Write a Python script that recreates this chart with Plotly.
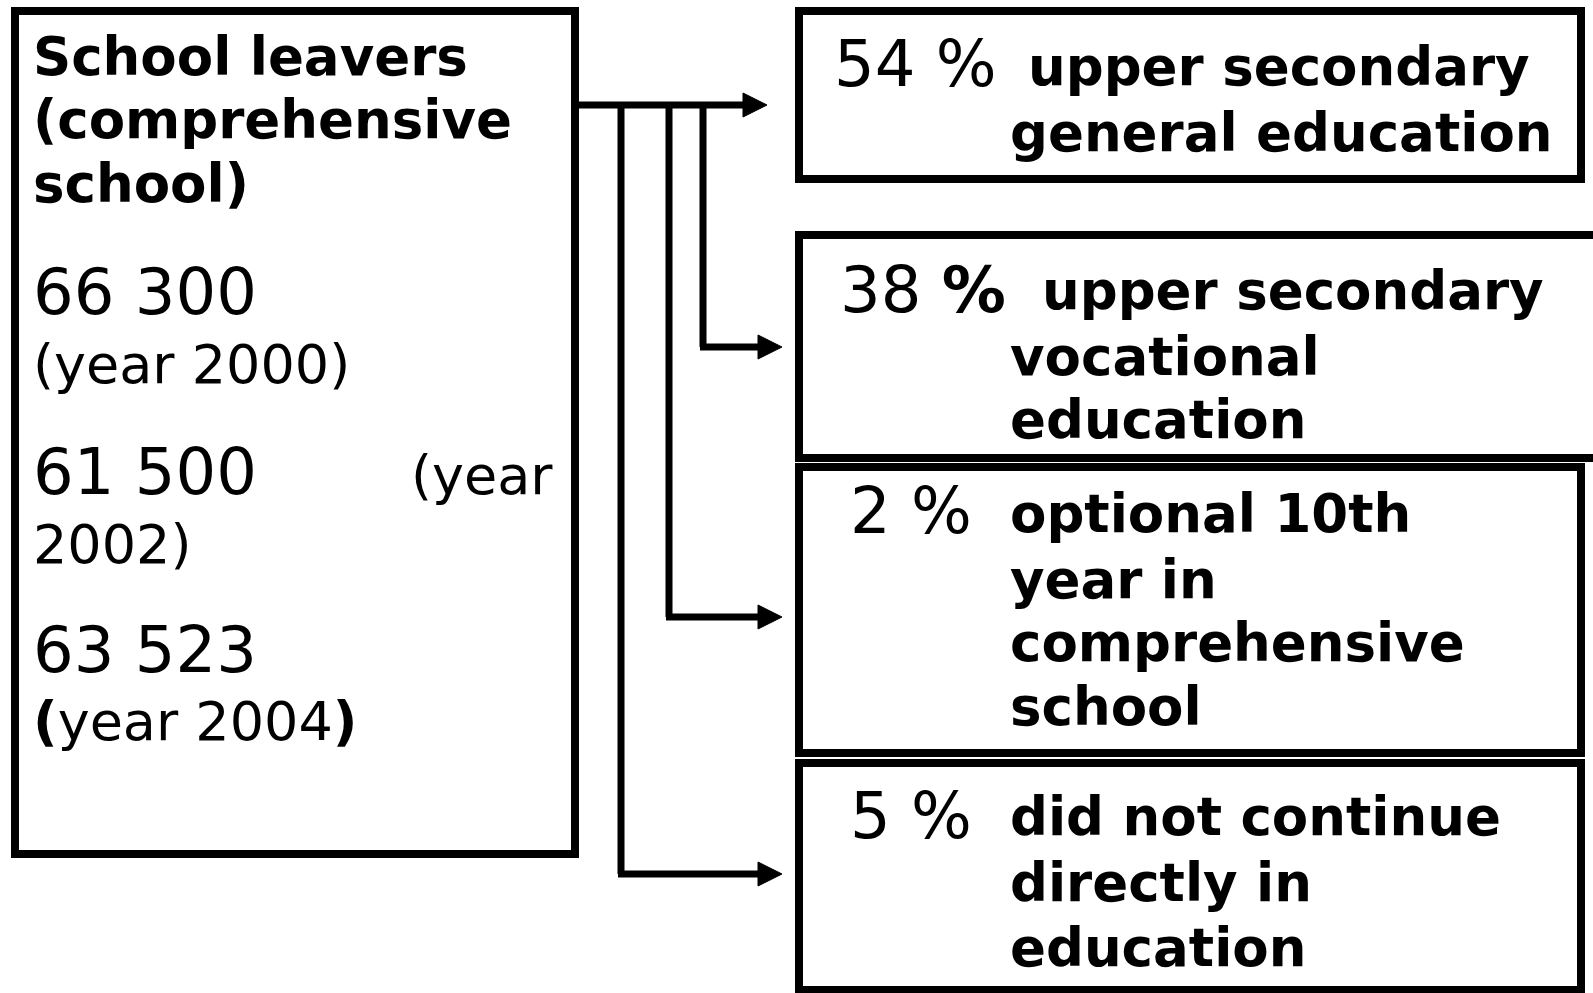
import plotly.graph_objects as go

# ---- data ----
leaver_counts = ["66 300", "61 500", "63 523"]
leaver_years = ["2000", "2002", "2004"]
dest_pcts = [54, 38, 2, 5]
dest_lines = [
    ["upper secondary", "general education"],
    ["upper secondary", "vocational", "education"],
    ["optional 10th", "year in", "comprehensive", "school"],
    ["did not continue", "directly in", "education"],
]
title_lines = ["School leavers", "(comprehensive", "school)"]

W, H = 1593, 993
FONT = "DejaVu Sans"
BIG, MID, BOLD = 64, 54, 53
LW = 8

fig = go.Figure()
shapes = []
ann = []

def rect(x0, y0, x1, y1):
    shapes.append(dict(type="rect", x0=x0, y0=y0, x1=x1, y1=y1, xref="x", yref="y",
                       line=dict(color="black", width=LW), fillcolor="rgba(0,0,0,0)"))

def seg(x0, y0, x1, y1, w=7):
    shapes.append(dict(type="line", x0=x0, y0=y0, x1=x1, y1=y1, xref="x", yref="y",
                       line=dict(color="black", width=w)))

def head(tx, y):
    shapes.append(dict(type="path", path=f"M {tx},{y} L {tx-24},{y-12} L {tx-24},{y+12} Z",
                       xref="x", yref="y", fillcolor="black", line=dict(color="black", width=1)))

def text(x, y, s, size, anchor="left"):
    ann.append(dict(x=x, y=y, xref="x", yref="y", text=s, showarrow=False,
                    xanchor=anchor, yanchor="middle",
                    font=dict(family=FONT, size=size, color="black")))

# boxes
rect(15, 11, 575, 854)
rect(799, 11, 1581, 179)
rect(799, 235, 1610, 458)
rect(799, 467, 1581, 753)
rect(799, 763, 1581, 990)

# connectors
seg(575, 105, 745, 105)
head(767, 105)
for vx, ay in [(703, 347), (669, 617), (621, 874)]:
    seg(vx, 105, vx, ay)
    seg(vx - 3, ay, 760, ay)
    head(782, ay)

# left box text
for i, t in enumerate(title_lines):
    text(31, [56, 119, 183][i], f"<b>{t}</b>", BOLD)
text(31, 292, leaver_counts[0], BIG)
text(31, 364, f"(year {leaver_years[0]})", MID)
text(31, 472, leaver_counts[1], BIG)
text(555, 475, "(year", MID, anchor="right")
text(31, 544, f"{leaver_years[1]})", MID)
text(31, 650, leaver_counts[2], BIG)
text(31, 721, f"<b>(</b>year {leaver_years[2]}<b>)</b>", MID)

# right boxes text
pct_pos = [(832, 64), (838, 290), (848, 511), (848, 816)]
first_x = [1026, 1040, 1008, 1008]
line_y = [[66, 132], [290, 356, 419], [513, 579, 642, 706], [816, 882, 947]]
for k in range(4):
    px, py = pct_pos[k]
    pct = f"{dest_pcts[k]} <b>%</b>" if k == 1 else f"{dest_pcts[k]} %"
    text(px, py, pct, BIG)
    for j, ln in enumerate(dest_lines[k]):
        x = first_x[k] if j == 0 else 1008
        text(x, line_y[k][j], f"<b>{ln}</b>", BOLD)

fig.update_layout(
    width=W, height=H, autosize=False,
    margin=dict(l=0, r=0, t=0, b=0),
    paper_bgcolor="white", plot_bgcolor="white",
    xaxis=dict(range=[0, W], visible=False, fixedrange=True),
    yaxis=dict(range=[H, 0], visible=False, fixedrange=True),
    shapes=shapes, annotations=ann, showlegend=False,
)
fig.write_html("out.html", post_script="document.body.style.margin='0';document.body.style.overflow='hidden';",
               config={"displayModeBar": False})
